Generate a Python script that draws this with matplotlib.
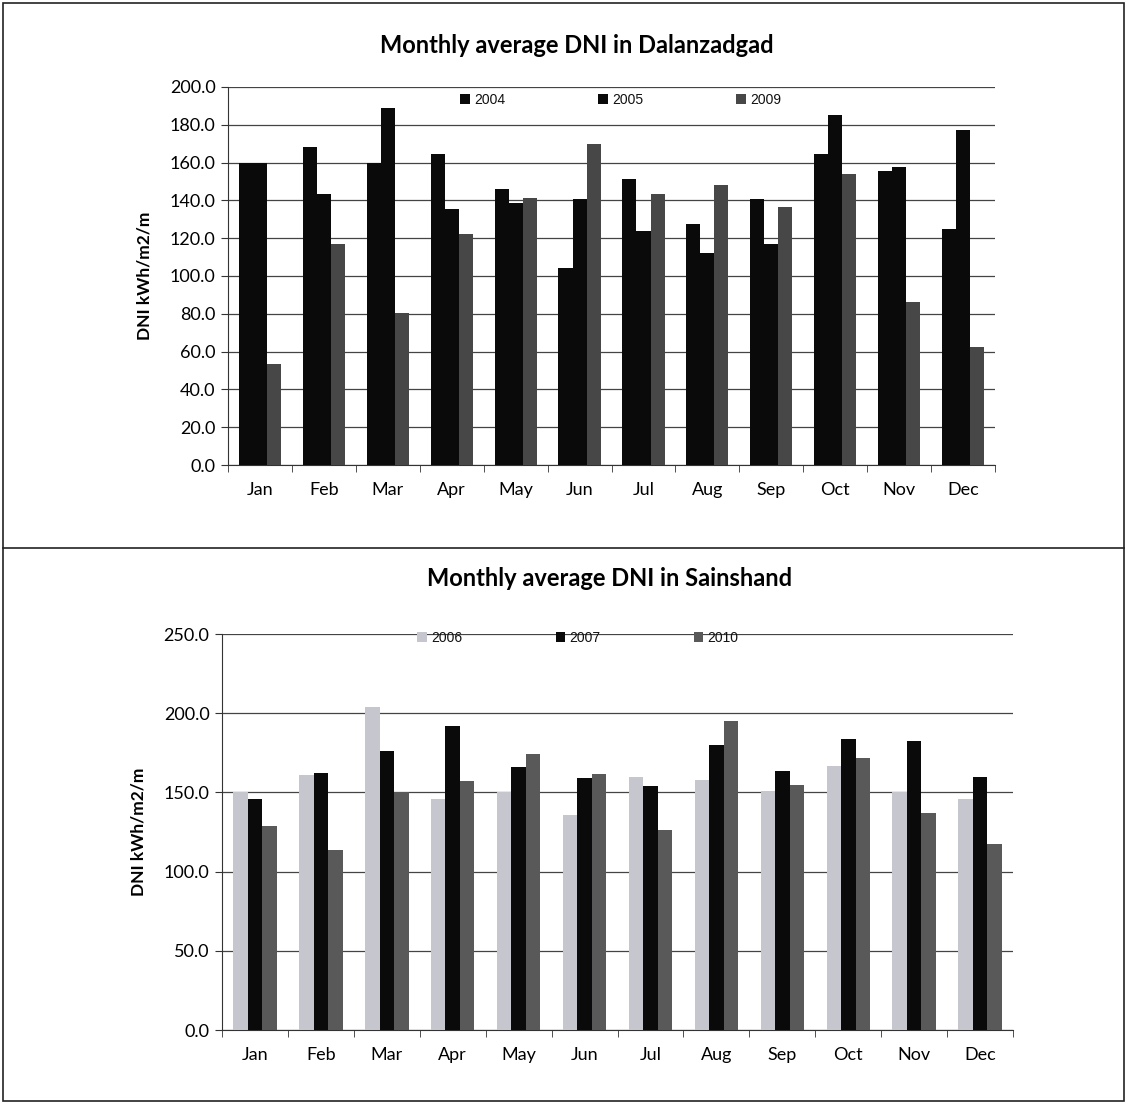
import numpy as np
import matplotlib
matplotlib.use("Agg")
import matplotlib.pyplot as plt
from matplotlib.patches import Rectangle
from matplotlib.lines import Line2D

# --- Data ---
months = ["Jan", "Feb", "Mar", "Apr", "May", "Jun",
          "Jul", "Aug", "Sep", "Oct", "Nov", "Dec"]

dal_years = ["2004", "2005", "2009"]
dal_2004 = [160, 168.5, 160, 164.7, 145.8, 104.4, 151.5, 127.3, 141, 164.7, 155.8, 125]
dal_2005 = [160, 143.5, 189, 135.6, 138.6, 140.5, 124, 112, 117, 185.3, 157.8, 177]
dal_2009 = [53.2, 117, 80.6, 122, 141.2, 170, 143.5, 148.4, 136.5, 154, 86.3, 62.2]

sai_years = ["2006", "2007", "2010"]
sai_2006 = [150, 161, 204, 145.6, 150, 135.6, 159.5, 158, 151, 167, 150, 146]
sai_2007 = [145.6, 162, 176, 192, 166, 159, 154, 180, 163.5, 184, 182.5, 159.5]
sai_2010 = [129, 113.5, 150, 157, 174, 161.6, 126, 195, 154.6, 171.7, 137, 117.7]

dal_ticks = np.arange(0, 201, 20)
sai_ticks = np.arange(0, 251, 50)

FONT = ["Lato", "DejaVu Sans"]
LEG_FONT = ["Liberation Sans", "DejaVu Sans"]


def draw_panel(ax, series, years, colors, ticks, title, title_xy, legend_anchor):
    x = np.arange(len(months))
    w = 0.22
    for i, (vals, yr, c) in enumerate(zip(series, years, colors)):
        ax.bar(x + (i - 1) * w, vals, width=w, color=c, label=yr,
               edgecolor="none", zorder=3)

    ax.set_xlim(-0.5, len(months) - 0.5)
    ax.set_ylim(ticks[0], ticks[-1])
    ax.set_yticks(ticks)
    ax.set_yticklabels([f"{t:.1f}" for t in ticks], fontfamily=FONT, fontsize=13)
    ax.set_xticks(x)
    ax.set_xticklabels(months, fontfamily=FONT, fontsize=13)
    ax.set_xticks(np.arange(-0.5, len(months)), minor=True)
    ax.tick_params(axis="x", which="major", length=0, pad=12)
    ax.tick_params(axis="x", which="minor", length=5, direction="out", color="#333333")
    ax.tick_params(axis="y", length=5, direction="out", color="#333333", pad=4)

    ax.grid(axis="y", color="#444444", linewidth=0.9, zorder=0)
    for s in ["top", "right"]:
        ax.spines[s].set_visible(False)
    for s in ["left", "bottom"]:
        ax.spines[s].set_color("#333333")

    ax.set_ylabel("DNI kWh/m2/m", fontfamily=FONT, fontsize=12.5,
                  fontweight="bold", labelpad=12)

    leg = ax.legend(ncol=3, loc="center", bbox_to_anchor=legend_anchor,
                    frameon=False, prop={"family": LEG_FONT, "size": 10},
                    handlelength=0.7, handleheight=0.7, handletextpad=0.3,
                    columnspacing=6.7)
    for t in leg.get_texts():
        t.set_color("#111111")

    fig.text(title_xy[0], title_xy[1], title, ha="center", va="center",
             fontfamily=FONT, fontsize=17, fontweight="bold")


fig = plt.figure(figsize=(11.27, 11.04), dpi=100)

ax1 = fig.add_axes([0.2023, 0.5788, 0.6806, 0.3424])
draw_panel(ax1, [dal_2004, dal_2005, dal_2009], dal_years,
           ["#0a0a0a", "#0a0a0a", "#474747"], dal_ticks,
           "Monthly average DNI in Dalanzadgad", (0.512, 0.959), (0.512, 0.966))

ax2 = fig.add_axes([0.197, 0.0670, 0.7019, 0.3587])
draw_panel(ax2, [sai_2006, sai_2007, sai_2010], sai_years,
           ["#c6c6ce", "#0a0a0a", "#595959"], sai_ticks,
           "Monthly average DNI in Sainshand", (0.541, 0.4764), (0.45, 0.99))

# outer frame and divider
fig.patches.append(Rectangle((0.003, 0.003), 0.994, 0.994, transform=fig.transFigure,
                             fill=False, edgecolor="#222222", linewidth=1.2))
fig.lines.append(Line2D([0.003, 0.997], [0.5036, 0.5036], transform=fig.transFigure,
                        color="#222222", linewidth=1.2))

fig.savefig("out.png", dpi=100)
